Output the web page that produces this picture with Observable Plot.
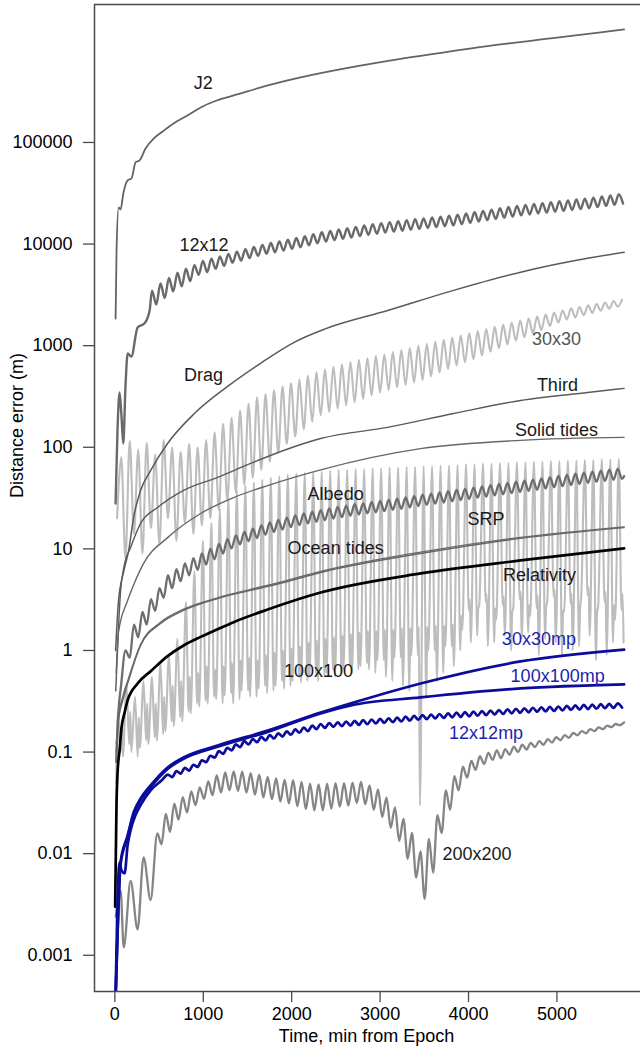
<!DOCTYPE html>
<html>
<head>
<meta charset="utf-8">
<script src="https://cdn.jsdelivr.net/npm/d3@7"></script>
<script src="https://cdn.jsdelivr.net/npm/@observablehq/plot@0.6"></script>
<style>
  html, body { margin: 0; padding: 0; background: #fff; }
  #chart svg { display: block; }
</style>
</head>
<body>
<div id="chart"></div>
<script>
// Orbit propagation: distance error (m) against time since epoch (min)
// for each force-model term left out of the reference propagation.

// Smooth runs: [time (min), error (m)]
const j2Pts = [[8,1850],[19,8650],[42,22900],[64,21900],[98,32200],[144,42300],[189,44300],[234,63600],[279,66500],[347,87300],[438,109000],[540,128000],[664,154000],[800,180000],[970,221000],[1150,259000],[1345,290000],[1730,364000],[2101,436000],[2666,547000],[3232,664000],[3798,787000],[4363,922000],[4929,1057000],[5494,1211000],[5760,1295000]];
const dragPts = [[8,1],[40,3],[100,6],[156,9.6],[212,20.4],[291,37.6],[404,59],[596,109],[902,216],[1275,397],[1648,671],[2033,1085],[2372,1455],[3085,2220],[3831,3500],[4589,5290],[5347,7240],[5760,8290]];
const thirdPts = [[10,0.4],[40,1.6],[65,3.9],[100,6.5],[178,10.3],[291,17.8],[483,25.5],[777,37.6],[1162,50.5],[1535,69.3],[1908,93],[2327,122],[3085,157],[3831,215],[4589,289],[5347,346],[5760,380]];
const solidTidesPts = [[15,0.6],[40,1.5],[144,3.1],[234,4.9],[325,7.2],[596,12.9],[970,22.3],[1343,32],[1728,42],[2327,60],[3458,97],[4589,117],[5760,125]];
const srpPts = [[15,0.12],[40,0.22],[88,0.35],[144,0.5],[291,1.15],[517,1.9],[777,2.55],[1162,3.3],[1535,4.0],[1908,4.8],[2327,6.0],[3458,9.3],[4589,13.0],[5760,16.5]];
const oceanTidesPts = [[15,0.1],[40,0.2],[88,0.32],[144,0.47],[291,1.12],[517,1.84],[777,2.48],[1162,3.25],[1535,3.9],[1908,4.67],[2327,5.86],[3458,9.0],[4589,12.7],[5760,16.2]];
const relativityPts = [[3,0.003],[19,0.033],[30,0.0616],[53,0.104],[76,0.175],[110,0.245],[144,0.322],[257,0.473],[415,0.636],[596,0.88],[777,1.12],[970,1.36],[1162,1.62],[1343,1.90],[1728,2.53],[2327,3.72],[3458,5.73],[4589,7.69],[5760,10.1]];
const mp30Pts = [[5,0.0003],[30,0.00164],[64,0.0082],[144,0.0151],[212,0.0255],[291,0.0349],[404,0.0469],[596,0.0705],[777,0.0885],[1162,0.116],[1728,0.163],[2327,0.245],[2893,0.345],[3458,0.473],[4589,0.78],[5760,1.02]];
const mp100Pts = [[5,0.0003],[30,0.0016],[64,0.0078],[144,0.0145],[212,0.0245],[291,0.0335],[404,0.045],[596,0.068],[777,0.086],[1162,0.113],[1728,0.158],[2327,0.24],[2670,0.288],[3458,0.345],[4589,0.423],[5760,0.463]];

// Oscillating runs: once-per-orbit maxima and minima (orbit ~96 min)
const orbit = 96;

const mp12Start = [[5,0.0003],[30,0.0035],[53,0.0082],[76,0.0068],[110,0.0064],[144,0.0121],[178,0.017],[234,0.024],[291,0.030],[404,0.042],[527,0.0524]];
const mp12PeakT0 = 600, mp12TroughT0 = 648;
const mp12Peaks = [0.060,0.065,0.070,0.075,0.083,0.092,0.102,0.110,0.119,0.128,0.134,0.141,0.147,0.153,0.160,0.167,0.174,0.182,0.189,0.193,0.196,0.200,0.203,0.206,0.209,0.212,0.215,0.218,0.223,0.227,0.231,0.234,0.237,0.240,0.244,0.247,0.250,0.253,0.256,0.259,0.264,0.267,0.270,0.273,0.276,0.278,0.281,0.285,0.288,0.291,0.293,0.296,0.298,0.301];
const mp12Troughs = [0.0567,0.0614,0.0657,0.0714,0.0795,0.088,0.096,0.104,0.112,0.119,0.125,0.130,0.136,0.142,0.148,0.155,0.161,0.168,0.173,0.177,0.180,0.182,0.185,0.188,0.191,0.194,0.197,0.200,0.204,0.208,0.211,0.214,0.217,0.220,0.222,0.225,0.228,0.231,0.234,0.237,0.240,0.243,0.246,0.249,0.251,0.254,0.257,0.260,0.262,0.265,0.267,0.270,0.272,0.274];

const g12Start = [[8,28],[30,150],[53,346],[75,200],[95,109],[120,400],[145,838],[186,780],[257,1510],[336,1660],[393,2220]];
const g12PeakT0 = 420, g12TroughT0 = 468;
const g12Peaks = [3480,4090,4640,5220,5720,6210,6840,7180,7570,8000,8400,8900,9350,9800,10250,10640,11030,11480,11930,12490,13050,13500,13890,14340,14780,15230,15680,16070,16460,16800,17190,17530,17860,18260,18590,18980,19430,20050,20610,21220,21840,22510,23130,23740,24300,24810,25310,25870,26380,26880,27440,28000,28620,29400,30180,30970];
const g12Troughs = [2540,2950,3420,3830,4320,4980,5300,5700,6100,6560,6880,7280,7630,8040,8300,8620,8970,9290,9730,10180,10580,10940,11250,11610,11960,12320,12630,12990,13260,13530,13840,14110,14380,14690,15000,15270,15710,16210,16700,17190,17680,18170,18660,19150,19550,20000,20400,20800,21250,21650,22100,22540,23130,23750,24380,25000];

const g30Start = [[25,20],[45,45]];
const g30PeakT0 = 72, g30TroughT0 = 120;
const g30Peaks = [80,115,95,110,85,118,100,90,108,100,118,140,170,195,230,268,310,335,365,395,425,465,505,550,585,620,655,690,720,750,790,820,865,905,950,995,1040,1090,1140,1200,1260,1330,1395,1460,1530,1610,1690,1770,1850,1930,2020,2120,2220,2330,2400,2490,2570,2660,2750,2840];
const g30Troughs = [8,14,9,16,11,20,12,18,14,17,20,24,30,36,43,50,60,72,88,108,128,150,178,206,222,240,258,278,300,325,345,365,390,412,435,460,500,545,590,640,685,735,800,870,945,1030,1120,1210,1320,1430,1560,1690,1810,1900,2000,2100,2210,2310,2420];

const albedoStart = [[15,0.08],[40,0.25],[70,0.45]];
const albedoPeakT0 = 120, albedoTroughT0 = 168;
const albedoPeaks = [1.0,1.8,2.4,3.2,4.1,5.5,6.3,7.2,8.1,9.0,10.0,11.2,12.5,13.6,14.7,15.8,17.0,18.2,19.3,20.3,21.4,22.3,23.2,24.1,25.0,25.9,26.7,27.5,28.1,28.9,29.6,30.4,31.2,32.1,33.1,34.1,35.0,36.0,37.0,38.0,39.0,40.1,41.2,42.4,43.5,44.6,45.8,46.9,48.1,49.5,50.9,52.2,53.6,54.9,56.3,57.6,59.0,60.3,61.7];
const albedoTroughs = [0.85,1.35,1.8,2.45,3.3,4.1,4.8,5.5,6.2,7.0,7.9,9.0,10.1,11.1,11.9,12.8,13.8,14.7,15.5,16.4,17.1,17.8,18.5,19.2,19.9,20.5,21.2,21.8,22.4,22.9,23.5,24.2,24.8,25.6,26.4,27.1,27.9,28.6,29.4,30.2,31.0,31.9,32.7,33.6,34.5,35.4,36.3,37.2,38.2,39.3,40.4,41.4,42.5,43.5,44.6,45.7,46.7,47.8,48.8];
const albedoEnd = [[5760,52]];

// 100x100: per orbit a main maximum, a dip, a secondary maximum and a second dip
const g100Start = [[15,0.05]];
const g100Offsets = [36, 66, 78, 90];
const g100Main = [0.25,0.45,0.35,0.5,0.55,0.75,0.9,1.3,3,6,12,18,25,32,38,42,45,48,50,52,54,55,56,57,58,59,60,60,61,61,62,62,63,63,64,64,65,65,66,66,67,68,68,69,69,70,70,71,71,72,72,73,73,74,74,75,75,76,76,77];
const g100DipA = [0.1,0.12,0.09,0.13,0.14,0.15,0.2,0.22,0.25,0.3,0.32,0.35,0.3,0.38,0.33,0.4,0.35,0.45,0.4,0.5,0.45,0.55,0.5,0.6,0.55,0.65,0.6,0.7,0.65,0.75,0.6,0.8,0.5,0.85,0.4,0.9,0.35,1.0,0.6,1.1,1.0,2.5,1.4,3.0,1.2,2.8,1.0,3.2,1.5,2.6,1.3,3.4,0.9,2.9,1.1,3.5,0.8,3.0,1.2,2.5];
const g100Second = [0.2,0.25,0.22,0.3,0.3,0.35,0.45,0.5,0.55,0.6,0.7,0.65,0.7,0.75,0.8,0.85,0.8,0.9,0.95,1.0,1.05,1.1,1.2,1.25,1.3,1.35,1.4,1.45,1.5,1.55,1.55,1.6,1.6,1.65,1.65,1.7,1.7,1.75,1.75,1.8,2.2,3.2,2.6,3.6,2.6,3.4,2.4,3.8,2.8,3.5,2.7,4.0,2.5,3.6,2.6,4.2,2.4,3.8,2.8,3.6];
const g100DipB = [0.09,0.1,0.11,0.12,0.13,0.16,0.18,0.2,0.24,0.28,0.3,0.33,0.36,0.3,0.4,0.35,0.42,0.38,0.45,0.42,0.5,0.48,0.55,0.5,0.6,0.55,0.65,0.6,0.7,0.65,0.8,0.55,0.85,0.45,0.9,0.03,1.0,0.5,1.1,0.7,1.6,1.2,2.8,1.1,2.0,1.4,2.6,1.3,2.2,0.9,3.0,1.2,2.4,1.0,3.3,1.4,2.7,0.9,2.0,1.2];

const g200Start = [[10,0.0024],[65,0.0043],[100,0.0012],[178,0.0054],[257,0.0018],[325,0.0092],[404,0.0035]];
const g200PeakT0 = 480, g200TroughT0 = 528;
const g200Peaks = [0.0158,0.0247,0.031,0.036,0.041,0.045,0.0515,0.059,0.063,0.0645,0.064,0.062,0.060,0.057,0.055,0.0533,0.0528,0.051,0.049,0.048,0.049,0.0495,0.0494,0.050,0.051,0.047,0.043,0.0356,0.0286,0.022,0.016,0.0105,0.014,0.024,0.042,0.058,0.072,0.082,0.091,0.098,0.104,0.107,0.113,0.118,0.123,0.128,0.134,0.140,0.147,0.154,0.161,0.168,0.175,0.182,0.189,0.196];
const g200Troughs = [0.0124,0.0164,0.0216,0.0254,0.030,0.0347,0.0377,0.040,0.042,0.0415,0.040,0.038,0.0358,0.0344,0.0326,0.0312,0.0293,0.0274,0.0267,0.0267,0.0278,0.029,0.0298,0.0315,0.0307,0.027,0.023,0.018,0.0134,0.0089,0.0058,0.0036,0.0065,0.016,0.027,0.042,0.056,0.067,0.076,0.084,0.087,0.094,0.100,0.106,0.112,0.118,0.124,0.131,0.138,0.146,0.153,0.161,0.168,0.176,0.184];

// Axis ticks
const xTicks = [0, 1000, 2000, 3000, 4000, 5000];
const yTicks = [0.001, 0.01, 0.1, 1, 10, 100, 1000, 10000, 100000];
const yTickText = ["0.001", "0.01", "0.1", "1", "10", "100", "1000", "10000", "100000"];

// Curve labels
const labelText = ["J2", "12x12", "Drag", "Third", "Solid tides", "Albedo", "SRP", "Ocean tides", "Relativity", "100x100", "200x200"];
const labelT = [999, 1009, 1003, 5005, 4996, 2497, 4199, 2497, 4804, 2304, 4097];
const labelV = [381000, 9690, 509, 406, 146, 34.3, 19.7, 10.2, 5.53, 0.621, 0.0098];
const greyLabelText = ["30x30"], greyLabelT = [4996], greyLabelV = [1164];
const blueLabelText = ["30x30mp", "100x100mp", "12x12mp"];
const blueLabelT = [4796, 5008, 4199];
const blueLabelV = [1.28, 0.561, 0.154];

// ---- helpers to shape rows ----
const pts = (pairs) => pairs.map(([t, v]) => ({t, v}));
const onGrid = (t0, values) => values.map((v, i) => ({t: t0 + i * orbit, v}));
const byTime = (...parts) => parts.flat().sort((a, b) => a.t - b.t);

const mp12 = byTime(pts(mp12Start), onGrid(mp12PeakT0, mp12Peaks), onGrid(mp12TroughT0, mp12Troughs));
const g12 = byTime(pts(g12Start), onGrid(g12PeakT0, g12Peaks), onGrid(g12TroughT0, g12Troughs));
const g30 = byTime(pts(g30Start), onGrid(g30PeakT0, g30Peaks), onGrid(g30TroughT0, g30Troughs));
const albedo = byTime(pts(albedoStart), onGrid(albedoPeakT0, albedoPeaks), onGrid(albedoTroughT0, albedoTroughs), pts(albedoEnd));
const g100 = byTime(pts(g100Start), ...[g100Main, g100DipA, g100Second, g100DipB].map((vals, k) => onGrid(g100Offsets[k], vals)));
const g200 = byTime(pts(g200Start), onGrid(g200PeakT0, g200Peaks), onGrid(g200TroughT0, g200Troughs));

const labels = (names, ts, vs) => names.map((name, i) => ({name, t: ts[i], v: vs[i]}));

const lineOpts = (stroke, strokeWidth) => ({
  x: "t", y: "v", stroke, strokeWidth, curve: "monotone-x", clip: true,
  strokeLinejoin: "round", strokeLinecap: "round"
});

const lightGrey = "#bdbdbd";
const blue = "#0c0c9c";
const fs = 18;
const tickLookup = new Map(yTicks.map((d, i) => [d, yTickText[i]]));

const chart = Plot.plot({
  width: 640,
  height: 1057,
  marginLeft: 94,
  marginTop: 4,
  marginBottom: 66,
  marginRight: -4,
  x: {domain: [-230.4, 5990.4], range: [94, 644]},
  y: {type: "log", domain: [4.40e-4, 2.28e6], range: [991, 4]},
  style: {
    fontFamily: "'Liberation Sans', Arial, Helvetica, sans-serif",
    fontSize: fs + "px",
    color: "#000",
    background: "#fff",
    overflow: "hidden"
  },
  marks: [
    Plot.line(g30, lineOpts(lightGrey, 2.1)),
    Plot.line(g100, lineOpts(lightGrey, 2.1)),
    Plot.line(pts(j2Pts), lineOpts("#636363", 1.8)),
    Plot.line(g12, lineOpts("#6a6a6a", 2.4)),
    Plot.line(pts(dragPts), lineOpts("#5a5a5a", 1.5)),
    Plot.line(pts(thirdPts), lineOpts("#5a5a5a", 1.4)),
    Plot.line(pts(solidTidesPts), lineOpts("#666", 1.4)),
    Plot.line(albedo, lineOpts("#6e6e6e", 2.3)),
    Plot.line(pts(srpPts), lineOpts("#6a6a6a", 1.3)),
    Plot.line(pts(oceanTidesPts), lineOpts("#666", 1.4)),
    Plot.line(pts(relativityPts), lineOpts("#000", 2.7)),
    Plot.line(g200, lineOpts("#858585", 2.3)),
    Plot.line(mp12, lineOpts(blue, 2.7)),
    Plot.line(pts(mp100Pts), lineOpts(blue, 2.7)),
    Plot.line(pts(mp30Pts), lineOpts(blue, 2.7)),
    Plot.frame({stroke: "#4a4a4a", strokeWidth: 1.5}),
    Plot.axisY(yTicks, {
      tickFormat: (d) => tickLookup.get(d), tickSize: 11, tickPadding: 11,
      fontSize: fs, stroke: "#4a4a4a", strokeWidth: 1.3, fill: "#000", label: null
    }),
    Plot.axisX(xTicks, {
      tickFormat: (d) => String(d), tickSize: 11, tickPadding: 5,
      fontSize: fs, stroke: "#4a4a4a", strokeWidth: 1.3, fill: "#000", label: null
    }),
    Plot.text(["Distance error (m)"], {frameAnchor: "left", dx: -77, rotate: -90, fontSize: fs, fill: "#000"}),
    Plot.text(["Time, min from Epoch"], {frameAnchor: "bottom", dy: 50, dx: -3, fontSize: fs, fill: "#000"}),
    Plot.text(labels(labelText, labelT, labelV), {x: "t", y: "v", text: "name", fontSize: fs, fill: "#1a1a1a"}),
    Plot.text(labels(greyLabelText, greyLabelT, greyLabelV), {x: "t", y: "v", text: "name", fontSize: fs, fill: "#555"}),
    Plot.text(labels(blueLabelText, blueLabelT, blueLabelV), {x: "t", y: "v", text: "name", fontSize: fs, fill: "#1e1eb0"})
  ]
});

document.getElementById("chart").appendChild(chart);
</script>
</body>
</html>
